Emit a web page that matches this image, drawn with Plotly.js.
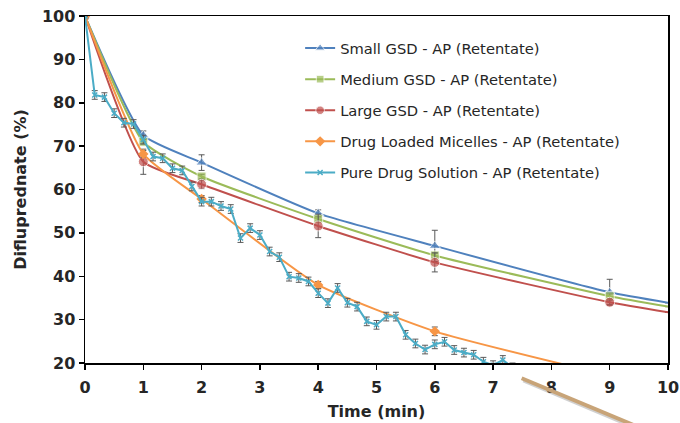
<!DOCTYPE html>
<html>
<head>
<meta charset="utf-8">
<script src="https://cdn.plot.ly/plotly-3.0.1.min.js"></script>
<style>html,body{margin:0;padding:0;background:#fff;}#chart{width:680px;height:423px;}</style>
</head>
<body>
<div id="chart"></div>
<script>
// ---- data ----
const gsdTime = [0, 1, 2, 4, 6, 9, 10];
const smallGSD = [100, 72.5, 66.2, 54.5, 47.0, 36.3, 33.9];
const smallErr = [0, 1.0, 1.8, 0.8, 3.6, 3.0, 0];
const mediumGSD = [100, 71.0, 63.0, 53.2, 44.8, 35.4, 33.0];
const mediumErr = [0, 0.5, 0.5, 0.5, 0.5, 0.5, 0];
const largeGSD = [100, 66.4, 61.2, 51.6, 43.2, 34.0, 31.7];
const largeErr = [0, 2.9, 1.0, 2.7, 2.2, 0.5, 0];

const micTime = [0, 1, 2, 4, 6, 9];
const micelles = [100, 68.2, 57.8, 38.0, 27.3, 17.1];
const micErr = [0, 0.8, 0.8, 0.8, 1.0, 0];

const pureTime = [0, 0.167, 0.333, 0.5, 0.667, 0.833, 1.0, 1.167, 1.333, 1.5, 1.667, 1.833,
  2.0, 2.167, 2.333, 2.5, 2.667, 2.833, 3.0, 3.167, 3.333, 3.5, 3.667, 3.833,
  4.0, 4.167, 4.333, 4.5, 4.667, 4.833, 5.0, 5.167, 5.333, 5.5, 5.667, 5.833,
  6.0, 6.167, 6.333, 6.5, 6.667, 6.833, 7.0, 7.167, 7.333];
const pureDrug = [100, 81.8, 81.3, 77.6, 75.4, 75.1, 71.5, 67.6, 67.2, 64.9, 64.4, 60.7,
  57.2, 57.2, 56.2, 55.5, 48.8, 51.1, 49.5, 45.7, 44.4, 39.9, 39.6, 38.8,
  36.1, 33.8, 37.3, 33.9, 33.0, 29.6, 28.8, 30.7, 30.7, 26.5, 24.5, 23.1,
  24.3, 24.9, 23.0, 22.4, 21.9, 20.3, 19.5, 20.7, 19.0];
const pureErr = [0, 1, 1, 1, 1, 1, 1, 1, 1, 1, 1, 1,
  1, 1, 1, 1, 1, 1, 1, 1, 1, 1, 1, 1,
  1, 1, 1, 1, 1, 1, 1, 1, 1, 1, 1, 1,
  1, 1, 1, 1, 1, 1, 1, 1, 1];

const seriesNames = [
  'Small GSD - AP (Retentate)',
  'Medium GSD - AP (Retentate)',
  'Large GSD - AP (Retentate)',
  'Drug Loaded Micelles - AP (Retentate)',
  'Pure Drug Solution - AP (Retentate)'
];
const xTicks = [0, 1, 2, 3, 4, 5, 6, 7, 8, 9, 10];
const yTicks = [20, 30, 40, 50, 60, 70, 80, 90, 100];

// ---- styles ----
const colors = ['#4F81BD', '#9BBB59', '#C0504D', '#F79646', '#4BACC6'];
const errStyle = {color: '#595959', thickness: 1, width: 3};
function gsdSizes(s) { return gsdTime.map((t, i) => i === gsdTime.length - 1 ? 0 : s); }

const traces = [
  {x: gsdTime, y: smallGSD, name: seriesNames[0], legendgroup: 'a',
   mode: 'lines+markers', line: {color: colors[0], width: 2, shape: 'spline', smoothing: 0.5},
   marker: {symbol: 'triangle-up', size: gsdSizes(10), color: colors[0]},
   error_y: Object.assign({type: 'data', array: smallErr, visible: true}, errStyle)},
  {x: gsdTime, y: mediumGSD, name: seriesNames[1], legendgroup: 'b',
   mode: 'lines+markers', line: {color: colors[1], width: 2, shape: 'spline', smoothing: 0.5},
   marker: {symbol: 'square', size: gsdSizes(9), color: colors[1]},
   error_y: Object.assign({type: 'data', array: mediumErr, visible: true}, errStyle)},
  {x: gsdTime, y: largeGSD, name: seriesNames[2], legendgroup: 'c',
   mode: 'lines+markers', line: {color: colors[2], width: 2, shape: 'spline', smoothing: 0.5},
   marker: {symbol: 'circle', size: gsdSizes(10), color: colors[2]},
   error_y: Object.assign({type: 'data', array: largeErr, visible: true}, errStyle)},
  {x: micTime, y: micelles, name: seriesNames[3], legendgroup: 'd',
   mode: 'lines+markers', line: {color: colors[3], width: 2, shape: 'spline', smoothing: 0.5},
   marker: {symbol: 'diamond', size: 8, color: colors[3]},
   error_y: Object.assign({type: 'data', array: micErr, visible: true}, errStyle)},
  {x: pureTime, y: pureDrug, name: seriesNames[4], legendgroup: 'e',
   mode: 'lines+markers', line: {color: colors[4], width: 2},
   marker: {symbol: 'x-thin-open', size: 5, color: colors[4], line: {color: colors[4], width: 1.5}},
   error_y: Object.assign({type: 'data', array: pureErr, visible: true}, errStyle)}
];

const fontFam = '"DejaVu Sans", sans-serif';
const axFont = {family: fontFam, size: 16, weight: 'bold', color: '#262626'};
const layout = {
  width: 680, height: 423,
  margin: {l: 85, r: 12, t: 16, b: 60},
  paper_bgcolor: '#ffffff', plot_bgcolor: '#ffffff',
  font: {family: fontFam, color: '#262626', size: 14},
  showlegend: true,
  legend: {x: 0.369, y: 0.954, xanchor: 'left', yanchor: 'top',
    font: {family: fontFam, size: 14.7, color: '#262626'},
    bgcolor: 'rgba(255,255,255,0)', itemwidth: 30, tracegroupgap: 9},
  xaxis: {range: [0, 10], tickvals: xTicks, ticktext: xTicks.map(String),
    showgrid: false, zeroline: false, showline: true, linecolor: '#000', linewidth: 1.5, mirror: true,
    ticks: 'outside', ticklen: 5, tickwidth: 1.5, tickcolor: '#000', ticklabelstandoff: 4,
    tickfont: axFont,
    title: {text: 'Time (min)', standoff: 10, font: axFont}},
  yaxis: {range: [20, 100], tickvals: yTicks, ticktext: yTicks.map(String),
    showgrid: false, zeroline: false, showline: true, linecolor: '#000', linewidth: 1.5, mirror: true,
    ticks: 'outside', ticklen: 5, tickwidth: 1.5, tickcolor: '#000',
    tickfont: axFont,
    title: {text: 'Difluprednate (%)', standoff: 11, font: axFont}},
  shapes: [
    {type: 'line', xref: 'paper', yref: 'paper', x0: 0.752, y0: -0.050, x1: 0.942, y1: -0.185,
     line: {color: 'rgba(120,120,120,0.35)', width: 4}, layer: 'above'},
    {type: 'line', xref: 'paper', yref: 'paper', x0: 0.749, y0: -0.044, x1: 0.94, y1: -0.178,
     line: {color: '#C8A478', width: 4}, layer: 'above'}
  ]
};

Plotly.newPlot('chart', traces, layout, {displayModeBar: false, staticPlot: true});
</script>
</body>
</html>
